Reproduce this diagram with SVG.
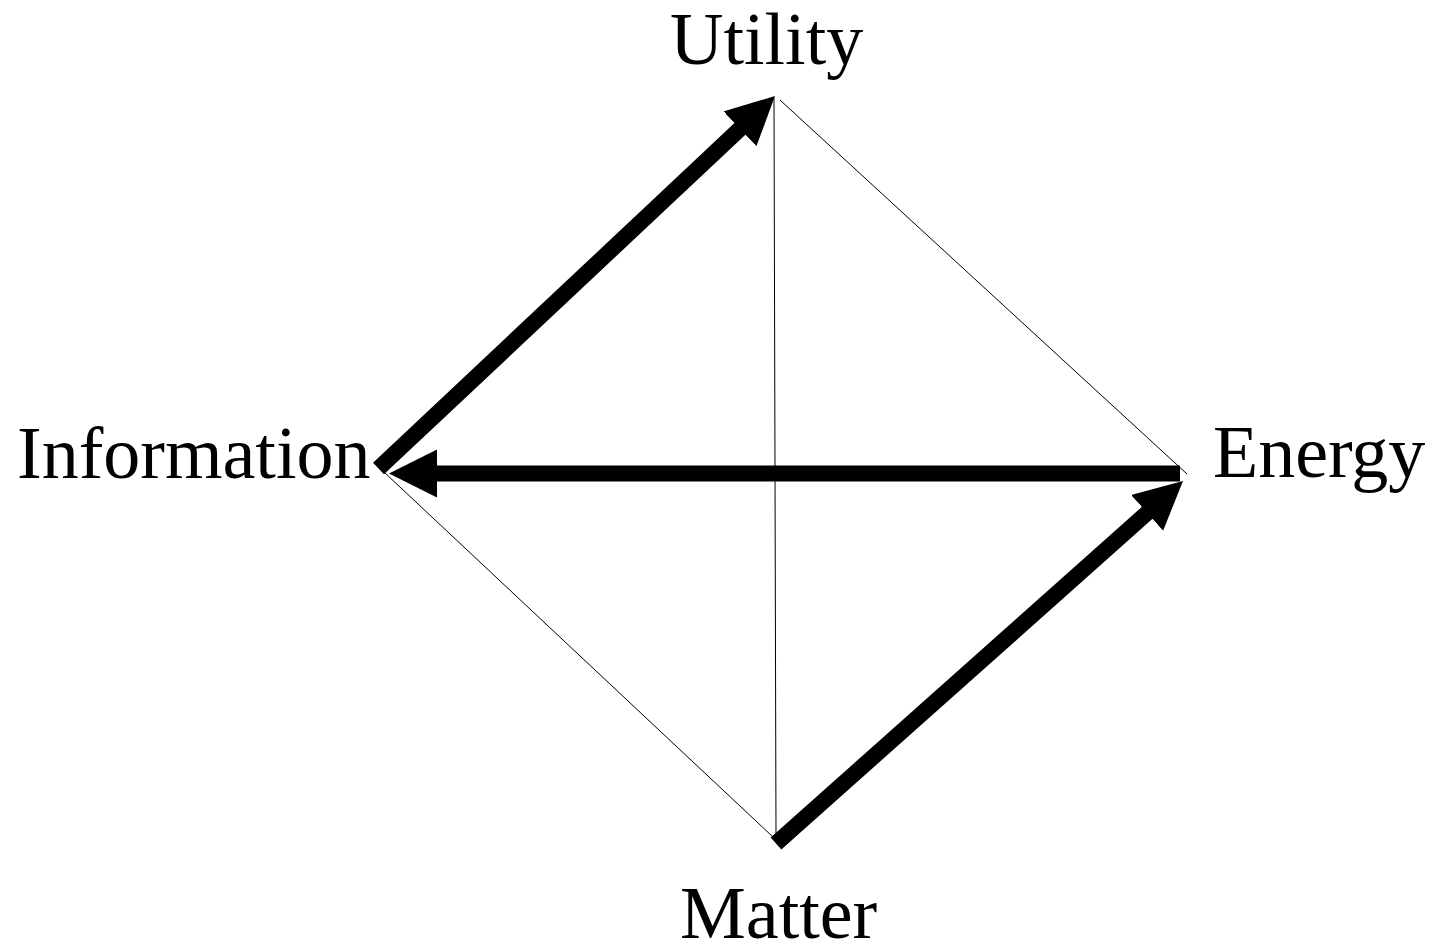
<svg xmlns="http://www.w3.org/2000/svg" width="1429" height="941" viewBox="0 0 1429 941">
<style>
.lbl{font-family:"Liberation Serif","Times New Roman",serif;font-size:74px;fill:#000}
.thin{stroke:#000;stroke-width:1;fill:none}
.thick{stroke:#000;stroke-width:16;fill:none;stroke-linecap:butt}
</style>
<defs>
<marker id="ah" markerUnits="userSpaceOnUse" markerWidth="50" markerHeight="50" refX="8" refY="24" orient="auto">
<path d="M0,0 L48,24 L0,48 z" fill="#000"/>
</marker>
</defs>
<rect width="1429" height="941" fill="#fff"/>
<g id="connectors">
<line class="thin" x1="780" y1="100" x2="1187" y2="474"/>
<line class="thin" x1="774" y1="98" x2="776" y2="837"/>
<line class="thin" x1="385" y1="473" x2="773" y2="837"/>
<line class="thick" x1="378.5" y1="468.5" x2="745.8" y2="123.4" marker-end="url(#ah)"/>
<line class="thick" x1="1180" y1="473.5" x2="429" y2="473.5" marker-end="url(#ah)"/>
<line class="thick" x1="776" y1="843.5" x2="1153.1" y2="507.6" marker-end="url(#ah)"/>
</g>
<g id="utility"><text class="lbl" x="670" y="64">Utility</text></g>
<g id="information"><text class="lbl" x="17" y="478">Information</text></g>
<g id="energy"><text class="lbl" x="1213" y="477">Energy</text></g>
<g id="matter"><text class="lbl" x="680" y="938">Matter</text></g>
</svg>
